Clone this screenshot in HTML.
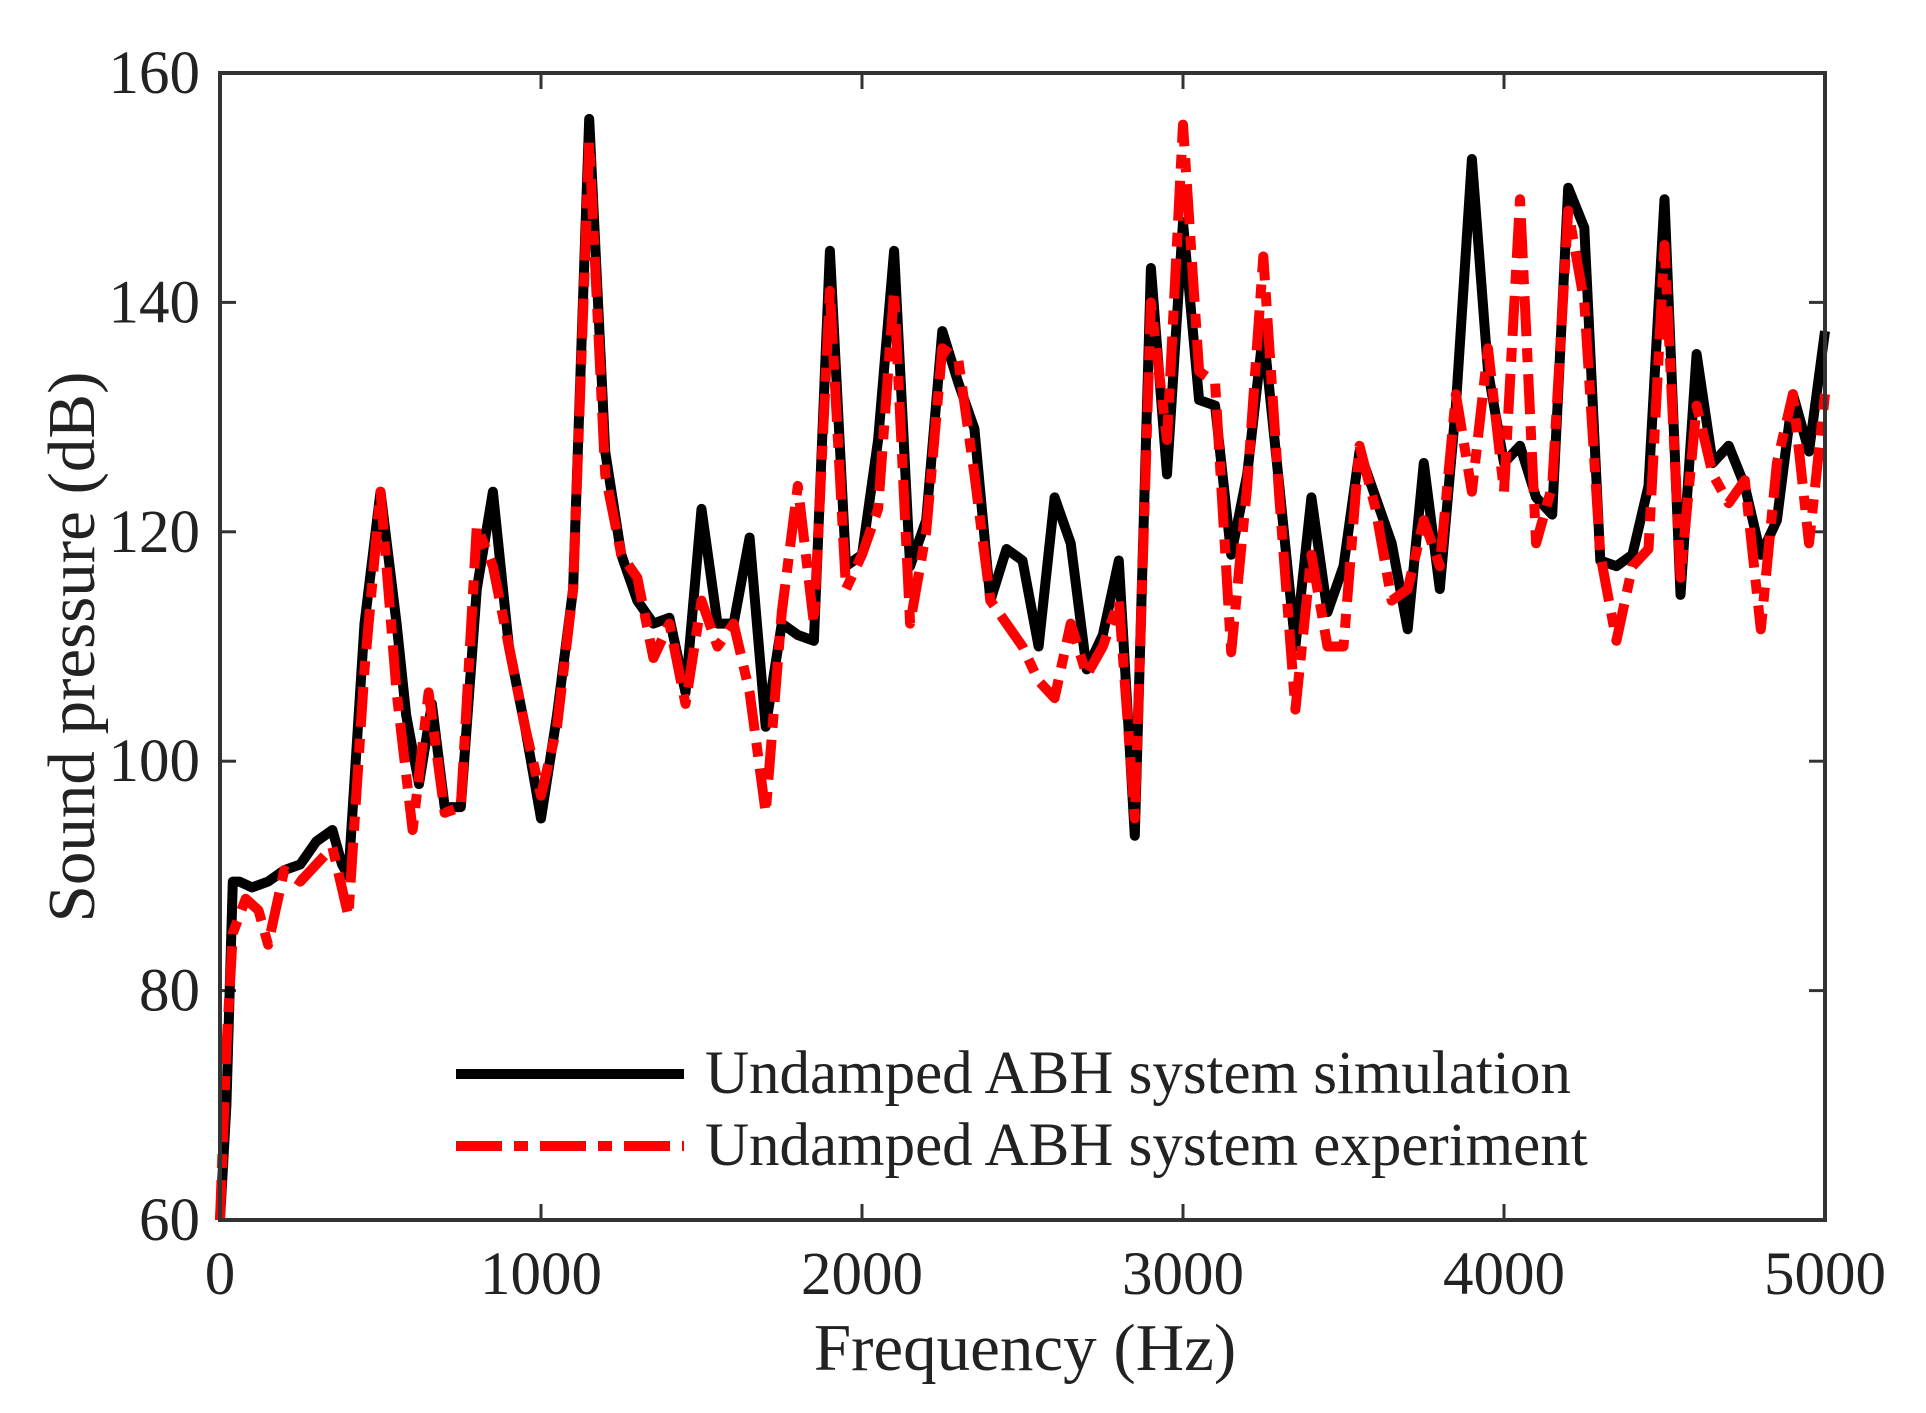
<!DOCTYPE html>
<html><head><meta charset="utf-8"><style>
html,body{margin:0;padding:0;background:#fff;}
svg{display:block;}
text{font-family:"Liberation Serif",serif;fill:#222;}
</style></head><body>
<svg id="s" width="1926" height="1413" xmlns="http://www.w3.org/2000/svg">
<rect width="1926" height="1413" fill="#fff"/>
<g id="ticks" stroke="#333" stroke-width="3"></g>
<g id="lines"></g>
<rect x="220" y="73" width="1605" height="1147" fill="none" stroke="#333" stroke-width="4"/>
<g font-size="61" text-anchor="end" id="yl"></g>
<g font-size="61" text-anchor="middle" id="xl"></g>
<text x="1025" y="1370" font-size="67" text-anchor="middle">Frequency (Hz)</text>
<text transform="translate(94,647) rotate(-90)" font-size="67" text-anchor="middle">Sound pressure (dB)</text>
<line x1="456" y1="1074" x2="684" y2="1074" stroke="#000" stroke-width="10"/>
<line x1="456" y1="1146" x2="684" y2="1146" stroke="#f00" stroke-width="10" stroke-dasharray="46,12,14,12"/>
<text x="705" y="1093" font-size="61">Undamped ABH system simulation</text>
<text x="705" y="1165" font-size="61">Undamped ABH system experiment</text>
</svg>
<script>
var X=function(f){return 220+f*0.321},Y=function(d){return 1220-(d-60)*11.47};
var ns="http://www.w3.org/2000/svg";
function el(t,a,p){var e=document.createElementNS(ns,t);for(var k in a)e.setAttribute(k,a[k]);p.appendChild(e);return e;}
var tk=document.getElementById('ticks'),yl=document.getElementById('yl'),xl=document.getElementById('xl');
for(var d=60;d<=160;d+=20){var y=Y(d);el('line',{x1:220,y1:y,x2:236,y2:y},tk);el('line',{x1:1825,y1:y,x2:1809,y2:y},tk);
var t=el('text',{x:200,y:y+20},yl);t.textContent=d;}
for(var f=0;f<=5000;f+=1000){var x=X(f);el('line',{x1:x,y1:1220,x2:x,y2:1204},tk);el('line',{x1:x,y1:73,x2:x,y2:89},tk);
var t=el('text',{x:x,y:1294},xl);t.textContent=f;}
var b=[[0,60],[20,70],[40,89.5],[60,89.5],[100,89],[150,89.5],[200,90.5],[250,91],[300,93],[350,94],[380,91],[400,90],[450,112],[500,123.5],[550,112],[580,104],[620,98],[660,105],[700,96],[750,96],[800,115],[850,123.5],[900,110],[950,103],[1000,95],[1050,104],[1100,115],[1150,156],[1200,127],[1250,118],[1300,114],[1350,112],[1400,112.5],[1450,106],[1500,122],[1550,112],[1600,112],[1650,119.5],[1700,103],[1750,112],[1800,111],[1850,110.5],[1900,144.5],[1950,117],[2000,118],[2050,128],[2100,144.5],[2150,117],[2200,121],[2250,137.5],[2300,133],[2350,129],[2400,114],[2450,118.5],[2500,117.5],[2550,110],[2600,123],[2650,119],[2700,108],[2750,111],[2800,117.5],[2850,93.5],[2900,143],[2950,125],[3000,147],[3050,131.5],[3100,131],[3150,118],[3200,125],[3250,137.5],[3300,124],[3350,110],[3400,123],[3450,113],[3500,117],[3550,127],[3600,123],[3650,119],[3700,111.5],[3750,126],[3800,115],[3850,131],[3900,152.5],[3950,134],[4000,126],[4050,127.5],[4100,123],[4150,121.5],[4200,150],[4250,146.5],[4300,117.5],[4350,117],[4400,118],[4450,124],[4500,149],[4550,114.5],[4600,135.5],[4650,126],[4700,127.5],[4750,124],[4800,118],[4850,121],[4900,132],[4950,127],[5000,137.5]];
var r=[[0,60],[20,75],[40,85],[80,88],[120,87],[150,84],[200,90.5],[250,89.5],[300,91],[350,92.5],[400,86.5],[450,108],[500,123.5],[550,106],[600,94],[650,106],[700,95.5],[750,96],[800,120.5],[850,117],[900,110],[950,103],[1000,97],[1050,103],[1100,115],[1150,154],[1200,125],[1250,118],[1300,116],[1350,109],[1400,112],[1450,105],[1500,114],[1550,110],[1600,112],[1650,106],[1700,95.5],[1750,113],[1800,124],[1850,112],[1900,141],[1950,115],[2000,118],[2050,122],[2100,141],[2150,112],[2200,120],[2250,136],[2300,135],[2350,125],[2400,114],[2450,112],[2500,110],[2550,107],[2600,105.5],[2650,112],[2700,107.5],[2750,110],[2800,114],[2850,95],[2900,140],[2950,128],[3000,155.5],[3050,134],[3100,133],[3150,109.5],[3200,124],[3250,144],[3300,123],[3350,104.5],[3400,118],[3450,110],[3500,110],[3550,127.5],[3600,122],[3650,114],[3700,115],[3750,121],[3800,117],[3850,132],[3900,123.5],[3950,136],[4000,123.5],[4050,149],[4100,119],[4150,124],[4200,148],[4250,140],[4300,118],[4350,110.5],[4400,117],[4450,118.5],[4500,145],[4550,116],[4600,131],[4650,125],[4700,122.5],[4750,124.5],[4800,111.5],[4850,126],[4900,132],[4950,119],[5000,132]];
function pts(a){return a.map(function(p){return X(p[0]).toFixed(1)+','+Y(p[1]).toFixed(1)}).join(' ');}
var L=document.getElementById('lines');
el('polyline',{points:pts(b),fill:'none',stroke:'#000','stroke-width':10,'stroke-linejoin':'round'},L);
el('polyline',{points:pts(r),fill:'none',stroke:'#f00','stroke-width':10,'stroke-linejoin':'round','stroke-dasharray':'40,12,14,12'},L);
</script>
</body></html>
